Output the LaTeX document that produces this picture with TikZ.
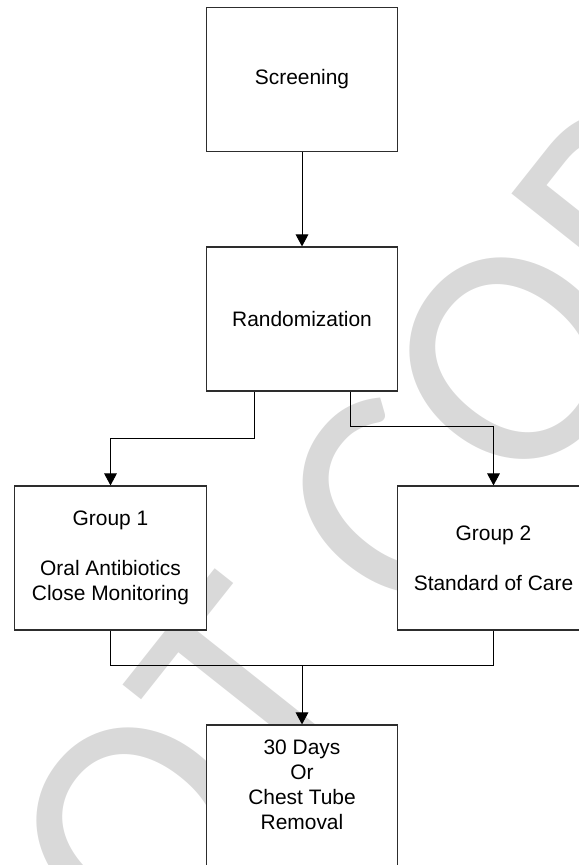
\documentclass[tikz,border=0pt]{standalone}
\usepackage{fontspec}
\setmainfont{Liberation Sans}
\newfontfamily\markfont{Carlito}
\usetikzlibrary{arrows.meta,positioning}
\definecolor{edge}{RGB}{45,45,45}
\definecolor{wmgray}{RGB}{217,217,217}
\tikzset{
  box/.style={draw=edge,fill=white,line width=0.9pt,align=center,minimum width=143.5pt,minimum height=108pt,inner sep=2pt,font=\fontsize{15.7}{18.7}\selectfont},
  arr/.style={-{Triangle[length=9pt,width=9.5pt]},line width=0.7pt},
  wire/.style={line width=0.7pt}
}

\begin{document}
\begin{tikzpicture}[x=0.75pt,y=-0.75pt]
\useasboundingbox (0,0) rectangle (579,865);
% watermark behind everything
\node[text=wmgray,font=\markfont\fontsize{240}{240}\selectfont,rotate=51.6] (mark) at (212,738) {DO NOT COPY};
% boxes
\node[box] (scr) at (302,79.5) {Screening};
\node[box] (rnd) at (302,319) {Randomization};
\node[box] (g1) at (110.5,558) {Group 1\\[18.7pt]Oral Antibiotics\\Close Monitoring};
\node[box] (g2) at (493.5,558) {Group 2\\[18.7pt]Standard of Care};
\node[box] (fin) at (302,797) {30 Days\\Or\\Chest Tube\\Removal\\~};
% split
\draw[arr] (scr) -- (rnd);
\draw[arr] ([xshift=-36pt]rnd.south) -- ++(0,47) -| (g1.north);
\draw[arr] ([xshift=36pt]rnd.south) -- ++(0,35) -| (g2.north);
% merge
\coordinate (mrg) at (302,665);
\draw[wire] (g1.south) |- (mrg);
\draw[wire] (g2.south) |- (mrg);
\draw[arr] (mrg) -- (fin.north);
\end{tikzpicture}
\end{document}
